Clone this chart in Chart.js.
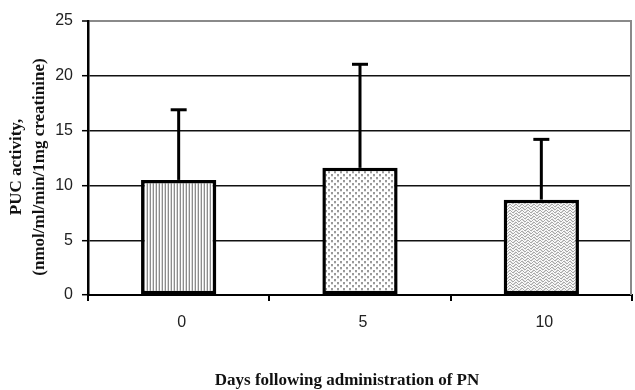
<!DOCTYPE html>
<html>
<head>
<meta charset="utf-8">
<script src="https://cdn.jsdelivr.net/npm/chart.js@4.4.0/dist/chart.umd.min.js"></script>
<style>
  html, body { margin: 0; padding: 0; background: #fff; }
  #wrap { width: 635px; height: 390px; position: relative; }
</style>
</head>
<body>
<div id="wrap"><canvas id="c" width="635" height="390"></canvas></div>
<script>
// ---- data ----
const categories = ['0', '5', '10'];
const meanValues = [10.5, 11.6, 8.7];
const sdValues = [6.4, 9.45, 5.5];
const yTicks = [0, 5, 10, 15, 20, 25];
const yTitleLines = ['PUC activity,', '(nmol/ml/min/1mg creatinine)'];
const xTitle = 'Days following administration of PN';

// ---- patterns ----
function makePattern(w, h, draw) {
  const c = document.createElement('canvas');
  c.width = w; c.height = h;
  const g = c.getContext('2d');
  g.fillStyle = '#fff';
  g.fillRect(0, 0, w, h);
  draw(g);
  return g.createPattern(c, 'repeat');
}
const stripes = makePattern(3, 4, g => {
  g.fillStyle = '#8c8c8c'; g.fillRect(0, 0, 1, 4);
  g.fillStyle = '#d8d8d8'; g.fillRect(2, 0, 1, 4);
});
const dots = makePattern(6, 6, g => {
  g.fillStyle = '#9a9a9a';
  g.fillRect(1, 0, 2, 2);
  g.fillRect(4, 3, 2, 2);
  g.fillStyle = '#e2e2e2';
  g.fillRect(1, 2, 2, 1);
  g.fillRect(4, 5, 2, 1);
});
const zigzag = makePattern(6, 6, g => {
  g.fillStyle = '#e4e4e4';
  for (let y = 0; y < 6; y++) for (let x = 0; x < 6; x++) if ((x + y) % 2 === 0) g.fillRect(x, y, 1, 1);
  g.fillStyle = '#a8a8a8';
  const pts = [[0,0],[1,1],[2,2],[3,2],[4,1],[5,0]];
  pts.forEach(p => { g.fillRect(p[0], p[1], 1, 1); g.fillRect(p[0], p[1] + 3, 1, 1); });
});

// ---- plugins ----
const errorBars = {
  id: 'errorBars',
  afterDatasetsDraw(chart) {
    const meta = chart.getDatasetMeta(0);
    const ys = chart.scales.y;
    const c = chart.ctx;
    c.save();
    c.strokeStyle = '#000';
    c.lineWidth = 3;
    c.lineCap = 'butt';
    meta.data.forEach((bar, i) => {
      const x = bar.x;
      const y0 = ys.getPixelForValue(meanValues[i]);
      const y1 = ys.getPixelForValue(meanValues[i] + sdValues[i]);
      c.beginPath();
      c.moveTo(x, y0);
      c.lineTo(x, y1);
      c.stroke();
      c.beginPath();
      c.moveTo(x - 8, y1);
      c.lineTo(x + 8, y1);
      c.stroke();
    });
    c.restore();
  }
};

const frameAndTitles = {
  id: 'frameAndTitles',
  beforeDatasetsDraw(chart) {
    const a = chart.chartArea;
    const c = chart.ctx;
    c.save();
    c.strokeStyle = '#8a8a8a';
    c.lineWidth = 2;
    c.beginPath();
    c.moveTo(a.right - 1, a.top);
    c.lineTo(a.right - 1, a.bottom);
    c.stroke();
    c.restore();
  },
  afterDraw(chart) {
    const c = chart.ctx;
    c.save();
    c.fillStyle = '#111';
    c.font = 'bold 17px "Liberation Serif", "Times New Roman", serif';
    c.textAlign = 'center';
    c.textBaseline = 'middle';
    c.fillText(xTitle, 347, 381);
    const cy = 167;
    const xs = [17, 40];
    yTitleLines.forEach((t, i) => {
      c.save();
      c.translate(xs[i], cy);
      c.rotate(-Math.PI / 2);
      c.fillText(t, 0, 0);
      c.restore();
    });
    c.restore();
  }
};

new Chart(document.getElementById('c'), {
  type: 'bar',
  data: {
    labels: categories,
    datasets: [{
      data: meanValues,
      backgroundColor: [stripes, dots, zigzag],
      borderColor: '#000',
      borderWidth: 3.5,
      borderSkipped: false,
      barPercentage: 0.415,
      categoryPercentage: 1.0
    }]
  },
  options: {
    responsive: false,
    animation: false,
    devicePixelRatio: 1,
    layout: { padding: { top: 21, right: 3, left: 0, bottom: 0 } },
    plugins: {
      legend: { display: false },
      tooltip: { enabled: false }
    },
    scales: {
      x: {
        offset: true,
        grid: {
          offset: true,
          drawOnChartArea: false,
          drawTicks: true,
          tickLength: 6,
          color: '#000',
          lineWidth: 2
        },
        border: { display: true, color: '#000', width: 2 },
        ticks: {
          color: '#222',
          padding: 12,
          labelOffset: 3,
          font: { family: '"Liberation Sans", Arial, sans-serif', size: 16 }
        },
        afterFit(scale) { scale.height = 95; }
      },
      y: {
        min: 0,
        max: 25,
        afterBuildTicks(scale) { scale.ticks = yTicks.map(v => ({ value: v })); },
        grid: {
          color: ctx => (ctx.tick && ctx.tick.value === 25) ? '#8a8a8a' : '#111',
          lineWidth: ctx => (ctx.tick && ctx.tick.value === 25) ? 2 : 1.4,
          tickLength: 6,
          tickColor: '#000',
          tickWidth: 1.5
        },
        border: { display: true, color: '#000', width: 2.5 },
        ticks: {
          color: '#222',
          padding: 9,
          font: { family: '"Liberation Sans", Arial, sans-serif', size: 16 }
        },
        afterFit(scale) { scale.width = 88; }
      }
    }
  },
  plugins: [errorBars, frameAndTitles]
});
</script>
</body>
</html>
